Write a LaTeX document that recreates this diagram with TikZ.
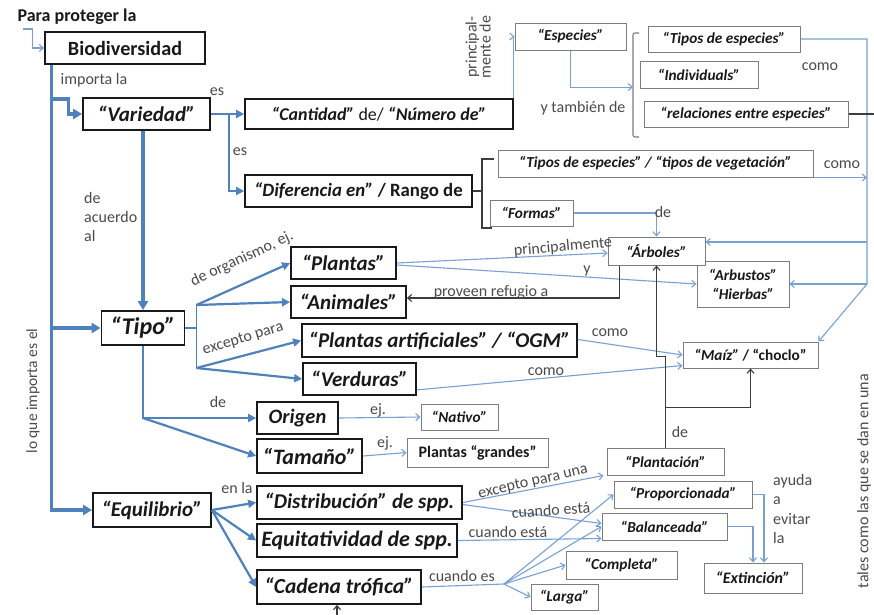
\documentclass[tikz,border=0pt]{standalone}
\usepackage{fontspec}
\setmainfont{Carlito}
\usetikzlibrary{arrows.meta,calc}

\definecolor{linkblue}{RGB}{79,129,189}
\definecolor{lightblue}{RGB}{120,160,210}
\definecolor{boxgray}{RGB}{125,125,125}
\definecolor{labelgray}{RGB}{75,75,75}
\definecolor{ink}{RGB}{25,25,25}

\newcommand{\fs}[1]{\fontsize{#1}{#1}\selectfont}

\tikzset{
  mainbox/.style={draw=ink, line width=1.8pt, fill=white, inner sep=0pt, text=ink,
    font=\fs{21}\bfseries\itshape},
  subbox/.style={draw=boxgray, line width=1pt, fill=white, inner sep=0pt, text=ink,
    font=\fs{15.3}\bfseries\itshape},
  wh/.style 2 args={minimum width=#1, minimum height=#2},
  lbl/.style={text=labelgray, inner sep=0pt, font=\fs{16}},
  thickflow/.style={draw=linkblue, line width=3.2pt, -{Triangle[length=9pt,width=10pt]}},
  midflow/.style={draw=linkblue, line width=2.2pt, -{Triangle[length=8pt,width=8pt]}},
  midline/.style={draw=linkblue, line width=1.6pt},
  thinflow/.style={draw=lightblue, line width=1.1pt, -{Straight Barb[length=4pt,width=7pt]}},
  thinline/.style={draw=lightblue, line width=1.1pt},
  darkflow/.style={draw=ink!85, line width=1.1pt, -{Straight Barb[length=4pt,width=7pt]}},
  darkline/.style={draw=ink!85, line width=1.1pt},
}

\begin{document}
\begin{tikzpicture}[x=1pt, y=-1pt]
\useasboundingbox[fill=white] (0,0) rectangle (874,614);

% ---- heading
\node[inner sep=0pt, text=ink, font=\fs{18}\bfseries] (para) at (77,17) {Para proteger la};

% ---- main boxes
\node[mainbox, wh={160}{32}, font=\fs{20.2}\bfseries] (bio) at (125,48) {Biodiversidad};
\node[mainbox, wh={127}{32}] (var) at (146.5,114) {“Variedad”};
\node[mainbox, wh={268}{30}, font=\fs{18}\bfseries\itshape] (cant) at (379,114) {“Cantidad”\ \textup{\mdseries de/} “Número de”};
\node[mainbox, wh={227}{32}, font=\fs{18.8}\bfseries\itshape] (dif) at (358.5,191) {“Diferencia en” \textup{/ Rango de}};
\node[mainbox, wh={83}{34}, font=\fs{24}\bfseries\itshape] (tipo) at (143,328) {“Tipo”};
\node[mainbox, wh={105}{32}] (plantas) at (343.5,263) {“Plantas”};
\node[mainbox, wh={115}{32}] (animales) at (348.5,302) {“Animales”};
\node[mainbox, wh={275}{33}] (partif) at (439.5,340.5) {“Plantas artificiales” / “OGM”};
\node[mainbox, wh={113}{32}] (verduras) at (359.5,379) {“Verduras”};
\node[mainbox, wh={81}{32}, font=\fs{20.5}\bfseries\itshape] (origen) at (297.5,418) {Origen};
\node[mainbox, wh={105}{34}, font=\fs{22}\bfseries\itshape] (tamano) at (309.5,456) {“Tamaño”};
\node[mainbox, wh={118}{34}] (equil) at (152,510) {“Equilibrio”};
\node[mainbox, wh={205}{33}] (distr) at (359.5,502.5) {“Distribución” de spp.};
\node[mainbox, wh={200}{33}, font=\fs{22}\bfseries\itshape] (equit) at (357,540.5) {Equitatividad de spp.};
\node[mainbox, wh={164}{34}, font=\fs{21.5}\bfseries\itshape] (cadena) at (339,587) {“Cadena trófica”};

% ---- secondary boxes
\node[subbox, wh={111}{27}] (especies) at (570.5,36.5) {“Especies”};
\node[subbox, wh={152}{26}] (tiposesp) at (724,39) {“Tipos de especies”};
\node[subbox, wh={118}{27}] (indiv) at (699,74.5) {“Individuals”};
\node[subbox, wh={204}{26}] (relac) at (746,114) {“relaciones entre especies”};
\node[subbox, wh={315}{27}] (tiposveg) at (655.5,163.5) {“Tipos de especies” / “tipos de vegetación”};
\node[subbox, wh={83}{26}] (formas) at (531.5,213) {“Formas”};
\node[subbox, wh={92}{46}, align=center, font=\fontsize{15.3}{19}\selectfont\bfseries\itshape] (arbustos) at (743,284) {“Arbustos”\\“Hierbas”};
\node[subbox, wh={97}{28}] (arboles) at (656.5,251) {“Árboles”};
\node[subbox, wh={135}{26}] (maiz) at (750.5,355) {“Maíz” \textup{/ “choclo”}};
\node[subbox, wh={77}{26}] (nativo) at (459.5,417) {“Nativo”};
\node[subbox, wh={141}{29}, font=\fs{16}\bfseries] (pgrandes) at (477.5,452.5) {Plantas “grandes”};
\node[subbox, wh={117}{27}] (plantacion) at (665.5,461.5) {“Plantación”};
\node[subbox, wh={138}{27}] (proporc) at (683,494.5) {“Proporcionada”};
\node[subbox, wh={125}{27}] (balanc) at (664.5,526.5) {“Balanceada”};
\node[subbox, wh={111}{28}] (completa) at (621.5,565) {“Completa”};
\node[subbox, wh={67}{26}] (larga) at (564.5,597) {“Larga”};
\node[subbox, wh={98}{30}, font=\fs{16}\bfseries\itshape] (extincion) at (753,578) {“Extinción”};

% ---- helper points
\coordinate (spine) at ($(bio.south west)+(7,0)$);
\coordinate (rail) at (867,0);
\coordinate (railA) at (867,242);
\coordinate (railB) at (867,284);
\coordinate (edge) at (874,0);
\coordinate (vj) at ($(var.east)+(18,0)$);
\coordinate (tj) at ($(tipo.east)+(11,0)$);
\coordinate (tjA) at ($(tj)+(0,-23)$);
\coordinate (tjB) at ($(tj)+(0,40)$);
\coordinate (td) at (tipo.south |- origen.west);
\coordinate (cj) at ($(cadena.east)+(82,-3)$);
\coordinate (brkT) at (633,33);
\coordinate (brkB) at (633,137);
\coordinate (brk2T) at (482,159);
\coordinate (brk2B) at (482,228);
\coordinate (cbot) at (337,616);

% ---- main blue flow
\draw[thinflow] ($(para.south west)+(6,4)$) -| ($(bio.west)+(-12,0)$) -- (bio.west);
\draw[thickflow] (spine) |- (equil.west);
\draw[thickflow] ($(spine)+(0,34)$) -| ($(var.west)+(-14,0)$) -- (var.west);
\draw[thickflow] (spine |- tipo.west) -- (tipo.west);
\draw[thickflow] (var.south -| tipo.north) -- (tipo.north);
\draw[midflow] (var.east) -- (cant.west);
\draw[midflow] (vj) |- (dif.west);

\draw[midline] (tipo.east) -- (tj);
\draw[midline] (tjA) -- (tjB);
\draw[midflow] (tjA) -- (plantas.west);
\draw[midflow] (tjA) -- (animales.west);
\draw[midflow] (tjB) -- (partif.west);
\draw[midflow] (tjB) -- (verduras.west);
\draw[midflow] (tipo.south) |- (origen.west);
\draw[midflow] (td) -- (tamano.west);

\draw[midflow] (equil.east) -- (distr.west);
\draw[midflow] (equil.east) -- (equit.west);
\draw[midflow] (equil.east) -- (cadena.west);

% ---- upper right branches
\draw[thinflow] (cant.north east) |- (especies.west);
\draw[darkline, draw=boxgray, rounded corners=2pt] ($(brkT)+(6,0)$) -- (brkT) -- (brkB) -- ($(brkB)+(6,0)$);
\draw[thinflow] (especies.south) |- ($(brkT)!0.52!(brkB)$);
\draw[darkline] (dif.east) -- (dif.east -| brk2T);
\draw[darkline] ($(brk2T)+(12,0)$) -- (brk2T) -- (brk2B) -- ($(brk2B)+(10,0)$);

\draw[thinflow] (tiposesp.east) -| (railB) -- (maiz.north east);
\draw[thinflow] (railA) -- (railA -| arboles.east);
\draw[thinflow] (railB) -- (arbustos.east);
\draw[thinflow] (tiposveg.south east) -- (tiposveg.south east -| rail);
\draw[darkline] (relac.east) -- (relac.east -| edge);

\draw[thinflow] (formas.east) -| (arboles.north);
\draw[thinflow] (plantas.east) -- ($(arboles.west)+(0,2)$);
\draw[thinflow] ($(plantas.east)+(0,2)$) -- (arbustos.west);
\draw[darkflow] ($(arboles.south west)+(12,0)$) |- ($(animales.east)+(0,-4)$);
\draw[thinflow] ($(partif.east)+(0,-1)$) -- (maiz.west);
\draw[thinflow] ($(verduras.south east)+(0,-6)$) -- ($(maiz.south west)+(0,-3)$);

\draw[darkflow] (plantacion.north) -- ++(0,-91) -| (arboles.south);
\draw[darkflow] ($(plantacion.north)+(0,-40)$) -| (maiz.south);

% ---- lower branches
\draw[thinflow] (origen.east) -- (nativo.west);
\draw[thinflow] (tamano.east) -- (pgrandes.west);
\draw[thinflow] (distr.east) -- ($(plantacion.south west)+(-3,0)$);
\draw[thinflow] ($(distr.east)+(0,2)$) -- ($(balanc.west)+(0,-3)$);
\draw[thinflow] (equit.east) -- ($(balanc.south west)+(0,-2)$);
\draw[thinline] (cadena.east) -- (cj);
\draw[thinflow] (cj) -- (larga.west);
\draw[thinflow] (cj) -- (completa.west);
\draw[thinflow] (cj) -- (balanc.west);
\draw[thinflow] (cj) -- (proporc.west);
\draw[thinflow] (proporc.east) -| ($(extincion.north)+(11,0)$);
\draw[thinflow] (balanc.east) -| (extincion.north);
\draw[darkflow] (cbot) -- (cbot |- cadena.south);

% ---- connector labels
\node[lbl] (l-importa) at (94,80) {importa la};
\node[lbl] (l-es1) at (217,92) {es};
\node[lbl] (l-es2) at (240,152) {es};
\node[lbl, rotate=90, align=center, font=\fontsize{16}{14}\selectfont] (l-princ) at (478,47) {principal-\\mente de};
\node[lbl] (l-tambien) at (583,108) {y también de};
\node[lbl] (l-como1) at (820,67) {como};
\node[lbl] (l-como2) at (842,165) {como};
\node[lbl, align=left, anchor=north west, font=\fontsize{16}{19}\selectfont] (l-acuerdo) at (84,192) {de\\acuerdo\\al};
\node[lbl, rotate=25] (l-organismo) at (242,259) {de organismo, ej.};
\node[lbl, rotate=17] (l-excepto) at (243,339) {excepto para};
\node[lbl] (l-de1) at (218,402) {de};
\node[lbl] (l-refugio) at (491,292) {proveen refugio a};
\node[lbl, rotate=5] (l-principal) at (563,247) {principalmente};
\node[lbl] (l-y) at (587,271) {y};
\node[lbl] (l-de2) at (663,212) {de};
\node[lbl] (l-como3) at (610,333) {como};
\node[lbl] (l-como4) at (546,372) {como};
\node[lbl] (l-ej1) at (378,410) {ej.};
\node[lbl] (l-ej2) at (385,443) {ej.};
\node[lbl] (l-de3) at (680,432) {de};
\node[lbl] (l-enla) at (237,488) {en la};
\node[lbl, rotate=13] (l-exceptouna) at (533,482) {excepto para una};
\node[lbl, rotate=4] (l-cuando1) at (551,510) {cuando está};
\node[lbl] (l-cuando2) at (508,532) {cuando está};
\node[lbl] (l-cuandoes) at (462,576) {cuando es};
\node[lbl, align=left, anchor=north west, font=\fontsize{16}{19.5}\selectfont] (l-ayuda) at (773,474) {ayuda\\a\\evitar\\la};
\node[lbl, rotate=90] (l-tales) at (864,481) {tales como las que se dan en una};
\node[lbl, rotate=90, font=\fs{15.5}] (l-importa) at (33,391) {lo que importa es el};

\end{tikzpicture}
\end{document}
